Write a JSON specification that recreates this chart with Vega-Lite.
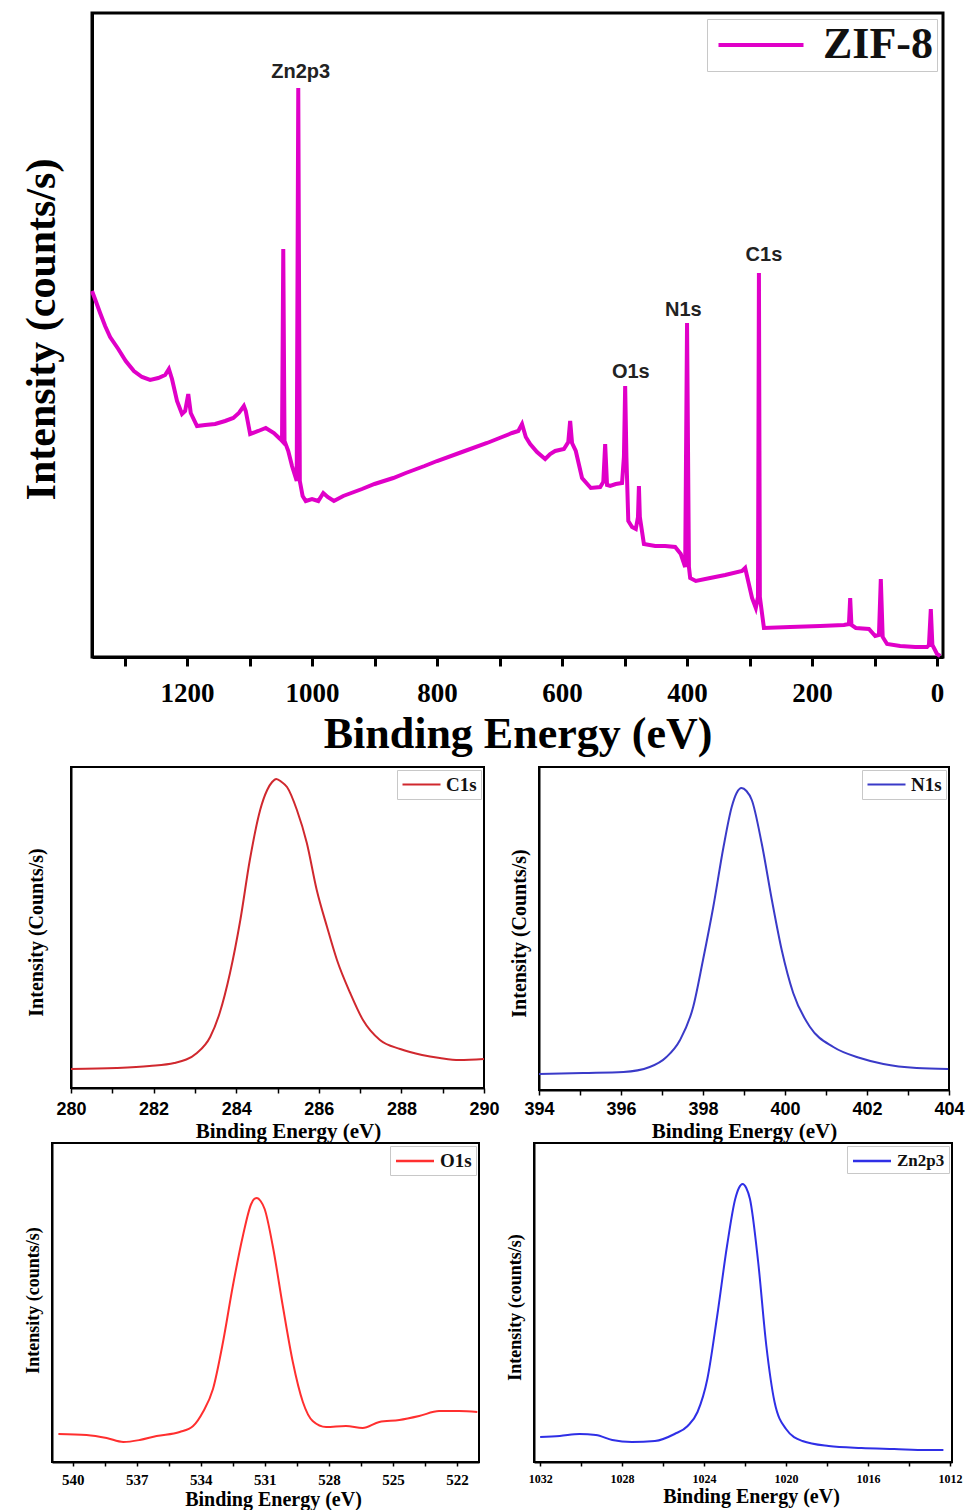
{
  "$schema": "https://vega.github.io/schema/vega-lite/v6.json",
  "background": "white",
  "padding": {"left": 0, "top": 11, "right": 0, "bottom": 0},
  "autosize": {"type": "pad"},
  "columns": 1,
  "spacing": 8,
  "resolve": {"scale": {"color": "independent", "x": "independent", "y": "independent"}, "legend": {"color": "independent"}},
  "config": {
    "view": {"stroke": "black", "strokeWidth": 2},
    "axis": {"grid": false, "domainColor": "black", "tickColor": "black", "labelColor": "black", "titleColor": "black", "labelFlush": false, "labelOverlap": false, "format": "d"},
    "legend": {"title": null, "fillColor": "white", "strokeColor": "#c8c8c8", "labelColor": "#111", "labelFont": "Liberation Serif", "labelFontWeight": "bold"}
  },
  "datasets": {
    "survey": [
      {"be": 1352, "i": 366}, {"be": 1346, "i": 356}, {"be": 1339, "i": 344}, {"be": 1331, "i": 331}, {"be": 1323, "i": 320},
      {"be": 1310, "i": 308}, {"be": 1298, "i": 296}, {"be": 1285, "i": 286}, {"be": 1272, "i": 280}, {"be": 1259, "i": 277},
      {"be": 1246, "i": 279}, {"be": 1235, "i": 282}, {"be": 1229, "i": 288}, {"be": 1224, "i": 278}, {"be": 1216, "i": 256},
      {"be": 1208, "i": 243}, {"be": 1203, "i": 246}, {"be": 1198, "i": 263}, {"be": 1194, "i": 244}, {"be": 1184, "i": 231},
      {"be": 1171, "i": 232}, {"be": 1155, "i": 233}, {"be": 1139, "i": 236}, {"be": 1126, "i": 239}, {"be": 1117, "i": 244},
      {"be": 1109, "i": 251}, {"be": 1106, "i": 246}, {"be": 1099, "i": 223}, {"be": 1086, "i": 226}, {"be": 1074, "i": 229},
      {"be": 1061, "i": 224}, {"be": 1051, "i": 218}, {"be": 1048, "i": 216}, {"be": 1046, "i": 408}, {"be": 1044, "i": 216},
      {"be": 1038, "i": 206}, {"be": 1032, "i": 191}, {"be": 1027, "i": 181}, {"be": 1024.5, "i": 176}, {"be": 1022, "i": 569},
      {"be": 1019.5, "i": 176}, {"be": 1015, "i": 161}, {"be": 1010, "i": 156}, {"be": 1000, "i": 158}, {"be": 990, "i": 156},
      {"be": 982, "i": 164}, {"be": 975, "i": 160}, {"be": 965, "i": 156}, {"be": 950, "i": 161}, {"be": 920, "i": 168},
      {"be": 900, "i": 173}, {"be": 870, "i": 179}, {"be": 850, "i": 184}, {"be": 820, "i": 191}, {"be": 800, "i": 196},
      {"be": 760, "i": 205}, {"be": 720, "i": 214}, {"be": 700, "i": 219}, {"be": 680, "i": 224}, {"be": 670, "i": 226},
      {"be": 664, "i": 233}, {"be": 658, "i": 220}, {"be": 651, "i": 213}, {"be": 640, "i": 205}, {"be": 627, "i": 198},
      {"be": 619, "i": 203}, {"be": 611, "i": 206}, {"be": 597, "i": 208}, {"be": 590, "i": 215}, {"be": 587, "i": 236},
      {"be": 584, "i": 214}, {"be": 578, "i": 206}, {"be": 568, "i": 179}, {"be": 554, "i": 169}, {"be": 539, "i": 170},
      {"be": 534, "i": 175}, {"be": 531, "i": 213}, {"be": 528, "i": 172}, {"be": 523, "i": 171}, {"be": 514, "i": 173},
      {"be": 504, "i": 174}, {"be": 501, "i": 200}, {"be": 499, "i": 271}, {"be": 497, "i": 200}, {"be": 494, "i": 136},
      {"be": 488, "i": 130}, {"be": 482, "i": 128}, {"be": 478.5, "i": 140}, {"be": 477, "i": 171}, {"be": 475.5, "i": 140},
      {"be": 469, "i": 113}, {"be": 451, "i": 111}, {"be": 435, "i": 111}, {"be": 419, "i": 110}, {"be": 410, "i": 103},
      {"be": 403, "i": 90}, {"be": 400, "i": 334}, {"be": 397, "i": 90}, {"be": 395, "i": 79}, {"be": 386, "i": 76},
      {"be": 363, "i": 79}, {"be": 339, "i": 82}, {"be": 312, "i": 86}, {"be": 307, "i": 89}, {"be": 296, "i": 59},
      {"be": 290, "i": 49}, {"be": 286.5, "i": 60}, {"be": 285, "i": 384}, {"be": 283.5, "i": 60}, {"be": 277, "i": 29},
      {"be": 235, "i": 30}, {"be": 187, "i": 31}, {"be": 149, "i": 32}, {"be": 141, "i": 33}, {"be": 139, "i": 59},
      {"be": 137, "i": 32}, {"be": 130, "i": 29}, {"be": 109, "i": 28}, {"be": 99, "i": 21}, {"be": 93, "i": 22},
      {"be": 90, "i": 78}, {"be": 87, "i": 20}, {"be": 80, "i": 13}, {"be": 59, "i": 11}, {"be": 35, "i": 10},
      {"be": 16, "i": 10}, {"be": 13, "i": 12}, {"be": 10, "i": 48}, {"be": 7.5, "i": 12}, {"be": 0, "i": 3},
      {"be": -5, "i": 1}
    ],
    "peaks": [
      {"be": 1018, "i": 585, "label": "Zn2p3"},
      {"be": 406, "i": 347, "label": "N1s"},
      {"be": 277, "i": 402, "label": "C1s"},
      {"be": 490, "i": 285, "label": "O1s"}
    ],
    "c1s": [
      {"be": 280.0, "i": 19}, {"be": 281.1, "i": 20}, {"be": 281.9, "i": 22}, {"be": 282.5, "i": 25}, {"be": 283.05, "i": 35},
      {"be": 283.37, "i": 51}, {"be": 283.6, "i": 75}, {"be": 283.85, "i": 115}, {"be": 284.1, "i": 168}, {"be": 284.33, "i": 228},
      {"be": 284.58, "i": 278}, {"be": 284.75, "i": 298}, {"be": 284.87, "i": 306}, {"be": 284.97, "i": 309}, {"be": 285.1, "i": 306},
      {"be": 285.23, "i": 301}, {"be": 285.47, "i": 278}, {"be": 285.71, "i": 245}, {"be": 285.95, "i": 198}, {"be": 286.2, "i": 161},
      {"be": 286.44, "i": 128}, {"be": 286.76, "i": 95}, {"be": 287.07, "i": 68}, {"be": 287.48, "i": 48}, {"be": 287.97, "i": 39},
      {"be": 288.5, "i": 33}, {"be": 288.93, "i": 30}, {"be": 289.4, "i": 28}, {"be": 290.0, "i": 29}
    ],
    "n1s": [
      {"be": 394.0, "i": 16}, {"be": 395.08, "i": 17}, {"be": 396.06, "i": 18}, {"be": 396.7, "i": 23}, {"be": 397.11, "i": 33},
      {"be": 397.44, "i": 50}, {"be": 397.76, "i": 83}, {"be": 398.0, "i": 130}, {"be": 398.25, "i": 183}, {"be": 398.5, "i": 243},
      {"be": 398.7, "i": 283}, {"be": 398.82, "i": 297}, {"be": 398.94, "i": 302}, {"be": 399.06, "i": 299}, {"be": 399.19, "i": 290},
      {"be": 399.43, "i": 247}, {"be": 399.68, "i": 190}, {"be": 399.92, "i": 140}, {"be": 400.2, "i": 97}, {"be": 400.61, "i": 63},
      {"be": 401.18, "i": 43}, {"be": 401.83, "i": 32}, {"be": 402.4, "i": 26}, {"be": 403.21, "i": 22}, {"be": 403.98, "i": 21}
    ],
    "o1s": [
      {"be": 540.67, "i": 28}, {"be": 539.35, "i": 27}, {"be": 538.41, "i": 24}, {"be": 537.63, "i": 20}, {"be": 536.86, "i": 22},
      {"be": 536.07, "i": 26}, {"be": 534.99, "i": 30}, {"be": 534.36, "i": 36}, {"be": 533.9, "i": 50}, {"be": 533.43, "i": 73},
      {"be": 532.96, "i": 120}, {"be": 532.5, "i": 176}, {"be": 532.03, "i": 226}, {"be": 531.64, "i": 258}, {"be": 531.5, "i": 263},
      {"be": 531.37, "i": 264}, {"be": 531.2, "i": 261}, {"be": 531.01, "i": 253}, {"be": 530.63, "i": 216}, {"be": 530.16, "i": 156},
      {"be": 529.69, "i": 100}, {"be": 529.22, "i": 60}, {"be": 528.76, "i": 41}, {"be": 528.13, "i": 35}, {"be": 527.2, "i": 36},
      {"be": 526.42, "i": 34}, {"be": 525.64, "i": 40}, {"be": 524.7, "i": 42}, {"be": 523.77, "i": 46}, {"be": 522.84, "i": 51},
      {"be": 521.9, "i": 51}, {"be": 521.05, "i": 50}
    ],
    "zn": [
      {"be": 1032.0, "i": 25}, {"be": 1031.04, "i": 26}, {"be": 1030.08, "i": 28}, {"be": 1029.28, "i": 27}, {"be": 1028.48, "i": 22},
      {"be": 1027.52, "i": 20}, {"be": 1026.4, "i": 21}, {"be": 1025.44, "i": 28}, {"be": 1024.8, "i": 36}, {"be": 1024.32, "i": 50},
      {"be": 1023.84, "i": 83}, {"be": 1023.36, "i": 146}, {"be": 1022.88, "i": 216}, {"be": 1022.48, "i": 263}, {"be": 1022.3, "i": 274},
      {"be": 1022.12, "i": 278}, {"be": 1021.94, "i": 274}, {"be": 1021.76, "i": 263}, {"be": 1021.36, "i": 200}, {"be": 1020.96, "i": 116},
      {"be": 1020.56, "i": 60}, {"be": 1020.0, "i": 33}, {"be": 1019.2, "i": 21}, {"be": 1017.92, "i": 16}, {"be": 1016.32, "i": 14},
      {"be": 1014.72, "i": 13}, {"be": 1013.12, "i": 12}, {"be": 1012.32, "i": 12}
    ]
  },
  "concat": [
    {
      "bounds": "flush",
      "spacing": 0,
      "resolve": {"scale": {"color": "independent", "x": "independent", "y": "independent"}, "legend": {"color": "independent"}},
      "hconcat": [
        {"width": 92, "height": 1, "view": {"stroke": null}, "data": {"values": []}, "mark": "point"},
        {
          "width": 851,
          "height": 644,
          "view": {"stroke": "black", "strokeWidth": 3},
          "layer": [
            {
              "data": {"name": "survey"},
              "mark": {"type": "line", "strokeWidth": 4},
              "encoding": {
                "x": {"field": "be", "type": "quantitative",
                  "scale": {"domain": [-9.5, 1352], "reverse": true, "nice": false, "zero": false},
                  "axis": {"title": "Binding Energy (eV)", "values": [1300, 1200, 1100, 1000, 900, 800, 700, 600, 500, 400, 300, 200, 100, 0],
                    "labelExpr": "datum.value % 200 === 0 ? datum.label : ''", "tickSize": 9, "tickWidth": 3, "domainWidth": 3,
                    "labelFont": "Liberation Serif", "labelFontSize": 27, "labelFontWeight": "bold", "labelPadding": 14,
                    "titleFont": "Liberation Serif", "titleFontSize": 44, "titleFontWeight": "bold", "titlePadding": 6}},
                "y": {"field": "i", "type": "quantitative",
                  "scale": {"domain": [0, 644], "nice": false, "zero": false},
                  "axis": {"title": "Intensity (counts/s)", "ticks": false, "labels": false, "domainWidth": 3,
                    "titleFont": "Liberation Serif", "titleFontSize": 42, "titleFontWeight": "bold",
                    "titleX": -51, "titleY": 316, "titleAngle": -90, "titleBaseline": "middle", "titleAlign": "center"}},
                "color": {"datum": "ZIF-8", "type": "nominal", "scale": {"range": ["#e000c8"]},
                  "legend": {"orient": "top-right", "offset": 6, "padding": 4, "symbolType": "M-3,0H3", "symbolSize": 803,
                    "symbolStrokeWidth": 4, "labelFontSize": 44, "labelOffset": 40, "symbolOffset": 28}}
              }
            },
            {
              "data": {"name": "peaks"},
              "mark": {"type": "text", "font": "Liberation Sans", "fontWeight": "bold", "fontSize": 20, "color": "#222", "baseline": "middle"},
              "encoding": {
                "x": {"field": "be", "type": "quantitative"},
                "y": {"field": "i", "type": "quantitative"},
                "text": {"field": "label"}
              }
            }
          ]
        }
      ]
    },
    {
      "columns": 1,
      "spacing": 0,
      "resolve": {"scale": {"color": "independent", "x": "independent", "y": "independent"}, "legend": {"color": "independent"}},
      "concat": [
        {
          "bounds": "flush",
          "spacing": 0,
          "resolve": {"scale": {"color": "independent", "x": "independent", "y": "independent"}, "legend": {"color": "independent"}},
          "hconcat": [
            {"width": 71, "height": 1, "view": {"stroke": null}, "data": {"values": []}, "mark": "point"},
            {
              "bounds": "flush",
              "spacing": 55,
              "resolve": {"scale": {"color": "independent", "x": "independent", "y": "independent"}, "legend": {"color": "independent"}},
              "hconcat": [
                {
                  "width": 413, "height": 321,
                  "data": {"name": "c1s"},
                  "mark": {"type": "line", "strokeWidth": 2, "interpolate": "monotone"},
                  "encoding": {
                    "x": {"field": "be", "type": "quantitative", "scale": {"domain": [280, 290], "nice": false, "zero": false},
                      "axis": {"title": "Binding Energy (eV)", "values": [280, 281, 282, 283, 284, 285, 286, 287, 288, 289, 290],
                        "labelExpr": "datum.value % 2 === 0 ? datum.label : ''", "tickSize": 5, "tickWidth": 1.5, "domainWidth": 2,
                        "labelFont": "Liberation Sans", "labelFontSize": 18, "labelFontWeight": "bold", "labelPadding": 7,
                        "titleFont": "Liberation Serif", "titleFontSize": 21, "titleFontWeight": "bold", "titlePadding": 2, "titleX": 217}},
                    "y": {"field": "i", "type": "quantitative", "scale": {"domain": [0, 321], "nice": false, "zero": false},
                      "axis": {"title": "Intensity (Counts/s)", "ticks": false, "labels": false, "domainWidth": 2,
                        "titleFont": "Liberation Serif", "titleFontSize": 20, "titleFontWeight": "bold",
                        "titleX": -35, "titleY": 165, "titleAngle": -90, "titleBaseline": "middle", "titleAlign": "center"}},
                    "color": {"datum": "C1s", "type": "nominal", "scale": {"range": ["#d0282e"]},
                      "legend": {"orient": "top-right", "offset": 3, "padding": 4, "symbolType": "M-2,0H2", "symbolSize": 361,
                        "symbolStrokeWidth": 2, "labelFontSize": 19, "labelOffset": 14, "symbolOffset": 10}}
                  }
                },
                {
                  "width": 410, "height": 323,
                  "data": {"name": "n1s"},
                  "mark": {"type": "line", "strokeWidth": 2, "interpolate": "monotone"},
                  "encoding": {
                    "x": {"field": "be", "type": "quantitative", "scale": {"domain": [394, 404], "nice": false, "zero": false},
                      "axis": {"title": "Binding Energy (eV)", "values": [394, 395, 396, 397, 398, 399, 400, 401, 402, 403, 404],
                        "labelExpr": "datum.value % 2 === 0 ? datum.label : ''", "tickSize": 5, "tickWidth": 1.5, "domainWidth": 2,
                        "labelFont": "Liberation Sans", "labelFontSize": 18, "labelFontWeight": "bold", "labelPadding": 5,
                        "titleFont": "Liberation Serif", "titleFontSize": 21, "titleFontWeight": "bold", "titlePadding": 2}},
                    "y": {"field": "i", "type": "quantitative", "scale": {"domain": [0, 323], "nice": false, "zero": false},
                      "axis": {"title": "Intensity (Counts/s)", "ticks": false, "labels": false, "domainWidth": 2,
                        "titleFont": "Liberation Serif", "titleFontSize": 20, "titleFontWeight": "bold",
                        "titleX": -20, "titleY": 166, "titleAngle": -90, "titleBaseline": "middle", "titleAlign": "center"}},
                    "color": {"datum": "N1s", "type": "nominal", "scale": {"range": ["#3a3ac8"]},
                      "legend": {"orient": "top-right", "offset": 3, "padding": 4, "symbolType": "M-2,0H2", "symbolSize": 361,
                        "symbolStrokeWidth": 2, "labelFontSize": 19, "labelOffset": 14, "symbolOffset": 10}}
                  }
                }
              ]
            }
          ]
        },
        {
          "bounds": "flush",
          "spacing": 0,
          "resolve": {"scale": {"color": "independent", "x": "independent", "y": "independent"}, "legend": {"color": "independent"}},
          "hconcat": [
            {"width": 52, "height": 1, "view": {"stroke": null}, "data": {"values": []}, "mark": "point"},
            {
              "bounds": "flush",
              "spacing": 55,
              "resolve": {"scale": {"color": "independent", "x": "independent", "y": "independent"}, "legend": {"color": "independent"}},
              "hconcat": [
                {
                  "width": 427, "height": 319,
                  "data": {"name": "o1s"},
                  "mark": {"type": "line", "strokeWidth": 2, "interpolate": "monotone"},
                  "encoding": {
                    "x": {"field": "be", "type": "quantitative", "scale": {"domain": [520.97, 540.97], "reverse": true, "nice": false, "zero": false},
                      "axis": {"title": "Binding Energy (eV)", "values": [540, 538.5, 537, 535.5, 534, 532.5, 531, 529.5, 528, 526.5, 525, 523.5, 522],
                        "labelExpr": "datum.value % 3 === 0 ? datum.label : ''", "tickSize": 4, "tickWidth": 1.5, "domainWidth": 2,
                        "labelFont": "Liberation Serif", "labelFontSize": 15, "labelFontWeight": "bold", "labelPadding": 6,
                        "titleFont": "Liberation Serif", "titleFontSize": 20, "titleFontWeight": "bold", "titlePadding": 2, "titleX": 221}},
                    "y": {"field": "i", "type": "quantitative", "scale": {"domain": [0, 319], "nice": false, "zero": false},
                      "axis": {"title": "Intensity (counts/s)", "ticks": false, "labels": false, "domainWidth": 2,
                        "titleFont": "Liberation Serif", "titleFontSize": 18, "titleFontWeight": "bold",
                        "titleX": -18.5, "titleY": 157, "titleAngle": -90, "titleBaseline": "middle", "titleAlign": "center"}},
                    "color": {"datum": "O1s", "type": "nominal", "scale": {"range": ["#ff2f2f"]},
                      "legend": {"orient": "top-right", "offset": 3, "padding": 4, "symbolType": "M-2,0H2", "symbolSize": 361,
                        "symbolStrokeWidth": 2.5, "labelFontSize": 19, "labelOffset": 14, "symbolOffset": 10}}
                  }
                },
                {
                  "width": 418, "height": 319,
                  "data": {"name": "zn"},
                  "mark": {"type": "line", "strokeWidth": 2, "interpolate": "monotone"},
                  "encoding": {
                    "x": {"field": "be", "type": "quantitative", "scale": {"domain": [1011.9, 1032.3], "reverse": true, "nice": false, "zero": false},
                      "axis": {"title": "Binding Energy (eV)", "values": [1032, 1030, 1028, 1026, 1024, 1022, 1020, 1018, 1016, 1014, 1012],
                        "labelExpr": "datum.value % 4 === 0 ? datum.label : ''", "tickSize": 4, "tickWidth": 1.5, "domainWidth": 2,
                        "labelFont": "Liberation Serif", "labelFontSize": 12, "labelFontWeight": "bold", "labelPadding": 7,
                        "titleFont": "Liberation Serif", "titleFontSize": 20, "titleFontWeight": "bold", "titlePadding": 2, "titleX": 217}},
                    "y": {"field": "i", "type": "quantitative", "scale": {"domain": [0, 319], "nice": false, "zero": false},
                      "axis": {"title": "Intensity (counts/s)", "ticks": false, "labels": false, "domainWidth": 2,
                        "titleFont": "Liberation Serif", "titleFontSize": 18, "titleFontWeight": "bold",
                        "titleX": -18.5, "titleY": 164, "titleAngle": -90, "titleBaseline": "middle", "titleAlign": "center"}},
                    "color": {"datum": "Zn2p3", "type": "nominal", "scale": {"range": ["#2f2fe6"]},
                      "legend": {"orient": "top-right", "offset": 3, "padding": 4, "symbolType": "M-2,0H2", "symbolSize": 361,
                        "symbolStrokeWidth": 2.5, "labelFontSize": 17, "labelOffset": 14, "symbolOffset": 10}}
                  }
                }
              ]
            }
          ]
        }
      ]
    }
  ]
}
